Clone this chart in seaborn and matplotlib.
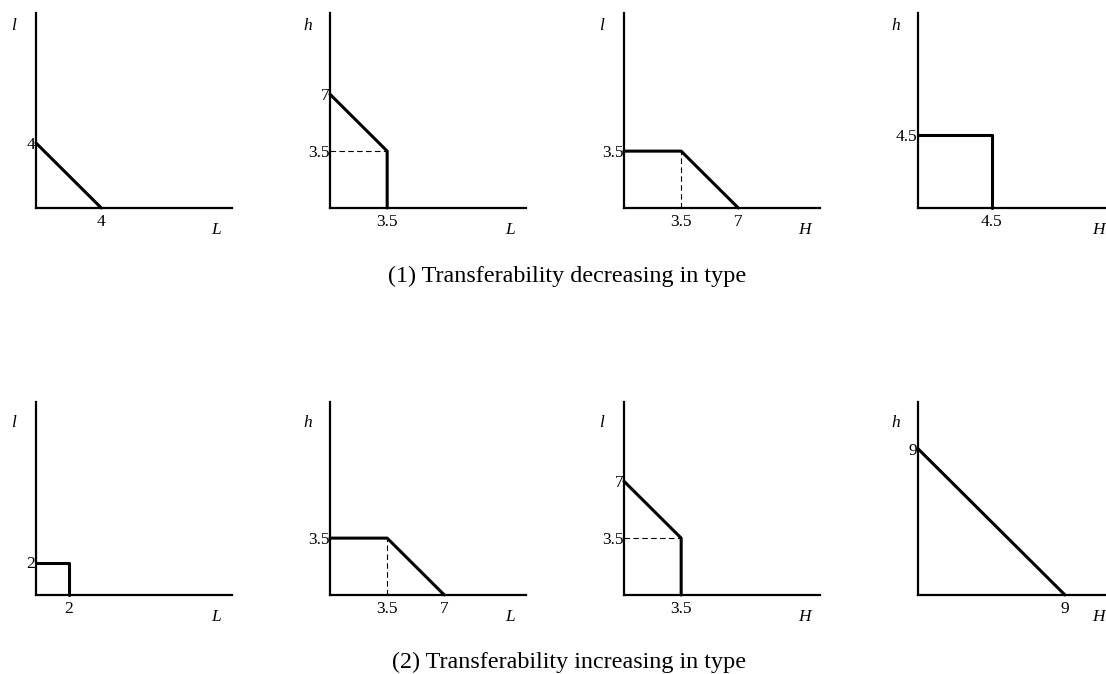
import matplotlib
matplotlib.use("Agg")
import matplotlib.pyplot as plt
import seaborn as sns
import pandas as pd

sns.set_theme(style="white")
plt.rcParams['font.family'] = ['Liberation Serif', 'DejaVu Serif']
plt.rcParams['text.color'] = 'black'

# ---- data ----
# frontier polylines per panel (row 1: decreasing, row 2: increasing)
p1_x = [0, 4];        p1_y = [4, 0]
p2_x = [0, 3.5, 3.5]; p2_y = [7, 3.5, 0]
p3_x = [0, 3.5, 7];   p3_y = [3.5, 3.5, 0]
p4_x = [0, 4.5, 4.5]; p4_y = [4.5, 4.5, 0]
p5_x = [0, 2, 2];     p5_y = [2, 2, 0]
p6_x = [0, 3.5, 7];   p6_y = [3.5, 3.5, 0]
p7_x = [0, 3.5, 3.5]; p7_y = [7, 3.5, 0]
p8_x = [0, 9];        p8_y = [9, 0]

# dashed guide lines
d2_x = [0, 3.5];   d2_y = [3.5, 3.5]
d3_x = [3.5, 3.5]; d3_y = [0, 3.5]
d6_x = [3.5, 3.5]; d6_y = [0, 3.5]
d7_x = [0, 3.5];   d7_y = [3.5, 3.5]

# tick labels
xticks = [["4"], ["3.5"], ["3.5", "7"], ["4.5"],
          ["2"], ["3.5", "7"], ["3.5"], ["9"]]
yticks = [["4"], ["7", "3.5"], ["3.5"], ["4.5"],
          ["2"], ["3.5"], ["7", "3.5"], ["9"]]
ylabels = ["l", "h", "l", "h", "l", "h", "l", "h"]
xlabels = ["L", "L", "H", "H", "L", "L", "H", "H"]
captions = ["(1) Transferability decreasing in type",
            "(2) Transferability increasing in type"]

curves = [(p1_x, p1_y), (p2_x, p2_y), (p3_x, p3_y), (p4_x, p4_y),
          (p5_x, p5_y), (p6_x, p6_y), (p7_x, p7_y), (p8_x, p8_y)]
dashes = {1: (d2_x, d2_y), 2: (d3_x, d3_y), 5: (d6_x, d6_y), 6: (d7_x, d7_y)}

# ---- layout ----
W, H = 1106, 674
fig = plt.figure(figsize=(W / 100, H / 100), dpi=100)
origins_x = [36, 330, 624, 918]
row_bottom = [208, 595]
row_top = [13, 402]
ax_w = 196
lim = 12.0

for i in range(8):
    r, c = divmod(i, 4)
    x0 = origins_x[c]
    yb = row_bottom[r]
    yt = row_top[r]
    ax = fig.add_axes([x0 / W, (H - yb) / H, ax_w / W, (yb - yt) / H])
    ax.set_xlim(0, lim)
    ax.set_ylim(0, lim * (yb - yt) / 195)
    for s in ["top", "right"]:
        ax.spines[s].set_visible(False)
    for s in ["left", "bottom"]:
        ax.spines[s].set_color("black")
        ax.spines[s].set_linewidth(1.6)
    cx, cy = curves[i]
    df = pd.DataFrame({"x": cx, "y": cy})
    sns.lineplot(data=df, x="x", y="y", sort=False, estimator=None,
                 color="black", lw=2.2, ax=ax, clip_on=False)
    if i in dashes:
        dx, dy = dashes[i]
        dd = pd.DataFrame({"x": dx, "y": dy})
        sns.lineplot(data=dd, x="x", y="y", sort=False, estimator=None,
                     color="black", lw=0.8, ax=ax, linestyle=(0, (5, 3)),
                     clip_on=False)
    ax.set_xticks([float(v) for v in xticks[i]])
    ax.set_xticklabels(xticks[i])
    ax.set_yticks([float(v) for v in yticks[i]])
    ax.set_yticklabels(yticks[i])
    ax.tick_params(axis="both", length=0, labelsize=12.5, colors="black")
    ax.tick_params(axis="x", pad=4.5)
    ax.tick_params(axis="y", pad=0.5)
    ax.set_xlabel("")
    ax.set_ylabel("")
    # axis names
    ly = yt + (13 if r == 0 else 21)
    fig.text((x0 - 22) / W, 1 - ly / H, ylabels[i], fontsize=12.5,
             fontstyle="italic", ha="center", va="center")
    fig.text((x0 + 180) / W, 1 - (yb + 22) / H, xlabels[i], fontsize=12.5,
             fontstyle="italic", ha="center", va="center")

fig.text(567 / W, 1 - 282 / H, captions[0], fontsize=17.4,
         ha="center", va="baseline")
fig.text(569 / W, 1 - 668 / H, captions[1], fontsize=17.4,
         ha="center", va="baseline")

fig.savefig("out.png", dpi=100, facecolor="white")
